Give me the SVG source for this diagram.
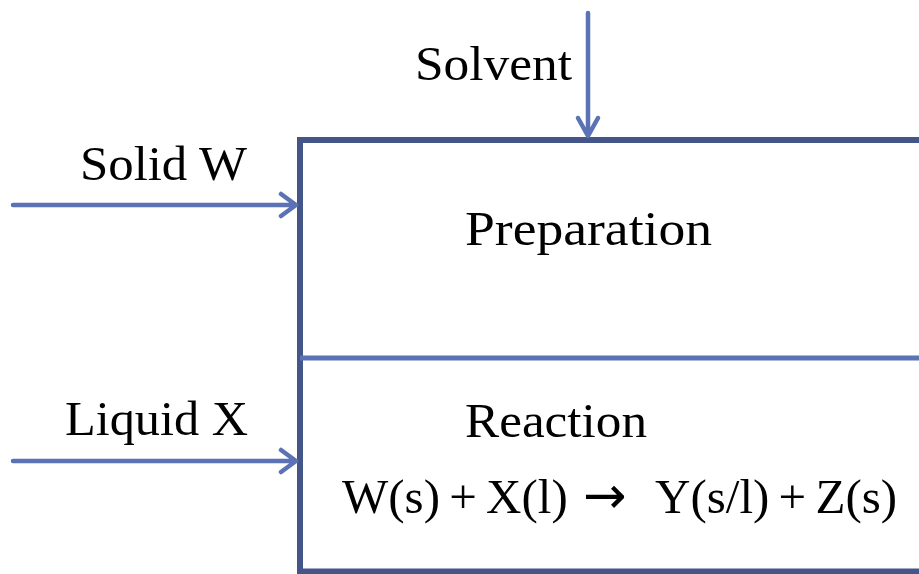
<svg xmlns="http://www.w3.org/2000/svg" width="919" height="574" viewBox="0 0 919 574">
<defs>
<style>
.lbl{font-family:"Liberation Serif","Times New Roman",serif;font-size:48px;fill:#000}
.eq{font-family:"Liberation Serif","Times New Roman",serif;font-size:49px;fill:#000;word-spacing:-3px}
.ar{font-family:"DejaVu Sans",sans-serif;font-size:52px;fill:#000}
.box{fill:none;stroke:#445588;stroke-width:6}
.div{stroke:#5B72B5;stroke-width:5}
.arr{fill:none;stroke:#5B72B5;stroke-width:4.5;stroke-linecap:round;stroke-linejoin:round}
</style>
</defs>
<rect width="919" height="574" fill="#fff"/>
<g id="process">
<path class="box" d="M925,140 H300 V571.5 H925"/>
<line class="div" x1="300" y1="358" x2="925" y2="358"/>
</g>
<g id="preparation">
<text class="lbl" x="465" y="245" textLength="247" lengthAdjust="spacingAndGlyphs">Preparation</text>
</g>
<g id="reaction">
<text class="lbl" x="465" y="437" textLength="182" lengthAdjust="spacingAndGlyphs">Reaction</text>
<text class="eq" x="342" y="513">W(s) + X(l)</text>
<text class="ar" x="583" y="513">→</text>
<text class="eq" x="655" y="513">Y(s/l) + Z(s)</text>
</g>
<g id="inputs">
<text class="lbl" x="415" y="80" textLength="157" lengthAdjust="spacingAndGlyphs">Solvent</text>
<text class="lbl" x="80" y="180" textLength="167" lengthAdjust="spacingAndGlyphs">Solid W</text>
<text class="lbl" x="65" y="435" textLength="183" lengthAdjust="spacingAndGlyphs">Liquid X</text>
</g>
<g id="connectors">
<path class="arr" d="M588,13 V136 M578,118 L588,136 L598,118"/>
<path class="arr" d="M13,205 H296 M281,194 L296,205 L281,216"/>
<path class="arr" d="M13,461 H296 M281,450 L296,461 L281,472"/>
</g>
</svg>
